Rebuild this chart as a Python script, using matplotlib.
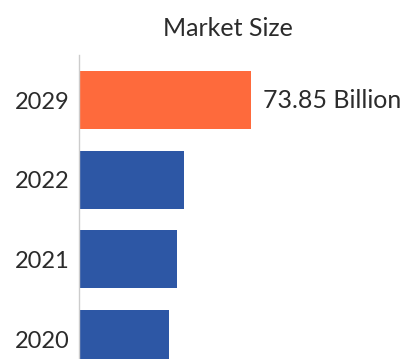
import matplotlib
matplotlib.use('Agg')
import matplotlib.pyplot as plt

years = ['2020', '2021', '2022', '2029']
sizes = [38.6, 42.1, 45.1, 73.85]
colors = ['#2d57a5', '#2d57a5', '#2d57a5', '#fe6a3c']
label = '73.85 Billion'

plt.rcParams['font.family'] = ['Lato', 'DejaVu Sans']

fig = plt.figure(figsize=(4.09, 3.59), dpi=100)
ax = fig.add_axes([79/409, 0, 330/409, 304/359])

pos = range(len(years))
ax.barh(pos, sizes, height=0.73, color=colors)
ax.set_xlim(0, 141.7)
ax.set_ylim(-0.25, 3.566)
ax.set_yticks(list(pos))
ax.set_yticklabels(years, fontsize=17, color='#2b2b2b')
ax.tick_params(axis='y', length=0, pad=7)
ax.set_xticks([])

# value label only on the forecast bar
ax.text(sizes[-1] + 5, 3, label, va='center', ha='left', fontsize=18, color='#2b2b2b')

for s in ['top', 'right', 'bottom']:
    ax.spines[s].set_visible(False)
ax.spines['left'].set_color('#cccccc')
ax.spines['left'].set_linewidth(1)

fig.text(228/409, 1 - 28/359, 'Market Size', ha='center', va='center', fontsize=18, color='#2b2b2b')

fig.savefig('out.png', dpi=100)
